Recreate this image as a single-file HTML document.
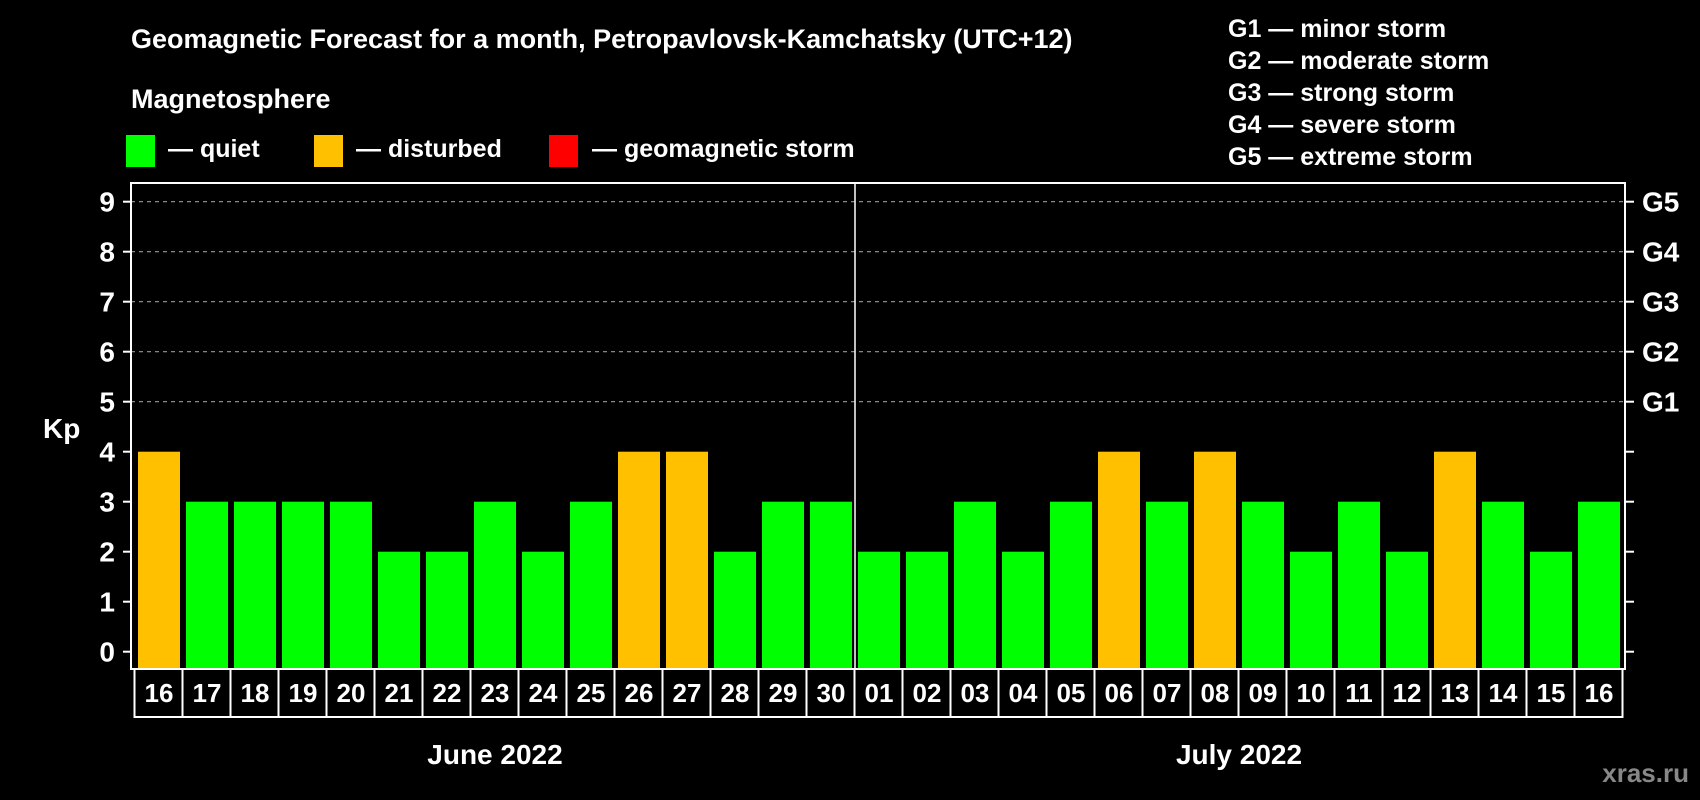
<!DOCTYPE html>
<html><head><meta charset="utf-8"><style>
html,body{margin:0;padding:0;background:#000;}
svg{display:block;font-family:"Liberation Sans",Arial,sans-serif;font-weight:bold;}
</style></head><body>
<svg id="chart" width="1700" height="800" viewBox="0 0 1700 800">
<rect x="0" y="0" width="1700" height="800" fill="#000"/>
<text x="131" y="48" font-size="27" fill="#fff">Geomagnetic Forecast for a month, Petropavlovsk-Kamchatsky (UTC+12)</text>
<text x="131" y="108" font-size="27" fill="#fff">Magnetosphere</text>
<g>
<rect x="126" y="135" width="29" height="32" fill="#00ff00"/>
<text x="168" y="157" font-size="25" fill="#fff">— quiet</text>
<rect x="314" y="135" width="29" height="32" fill="#ffc000"/>
<text x="356" y="157" font-size="25" fill="#fff">— disturbed</text>
<rect x="549" y="135" width="29" height="32" fill="#ff0000"/>
<text x="592" y="157" font-size="25" fill="#fff">— geomagnetic storm</text>
</g>
<g font-size="25" fill="#fff">
<text x="1228" y="37">G1 — minor storm</text>
<text x="1228" y="69">G2 — moderate storm</text>
<text x="1228" y="101">G3 — strong storm</text>
<text x="1228" y="133">G4 — severe storm</text>
<text x="1228" y="165">G5 — extreme storm</text>
</g>
<text x="43" y="438" font-size="28" fill="#fff">Kp</text>
<g id="grid"></g>
<g id="bars"></g>
<g id="axes"></g>
<text x="1689" y="782" font-size="26" fill="#888" text-anchor="end">xras.ru</text>
</svg>
<script>
const days = ["16","17","18","19","20","21","22","23","24","25","26","27","28","29","30","01","02","03","04","05","06","07","08","09","10","11","12","13","14","15","16"];
const kpValues = [4,3,3,3,3,2,2,3,2,3,4,4,2,3,3,2,2,3,2,3,4,3,4,3,2,3,2,4,3,2,3];
const yTicks = [0,1,2,3,4,5,6,7,8,9];
const gLabels = ["G1","G2","G3","G4","G5"];
const months = ["June 2022","July 2022"];
const monthSpans = [[0,14],[15,30]];

const NS="http://www.w3.org/2000/svg";
const PL=131,PR=1625,PT=183,PB=669,X0=135,STEP=48;
const y = v => 651.7 - v*50;
const x = i => X0 + i*STEP;
function mk(tag, attrs, parent){const e=document.createElementNS(NS,tag);for(const k in attrs)e.setAttribute(k,attrs[k]);parent.appendChild(e);return e;}
const grid=document.getElementById('grid'), bars=document.getElementById('bars'), axes=document.getElementById('axes');

for(let v=5; v<=9; v++){
  const l=mk('line',{x1:PL,x2:PR,y1:y(v),y2:y(v),stroke:'#999','stroke-width':1.2,'stroke-dasharray':'4 4'},grid);
  
  
}
kpValues.forEach((v,i)=>{
  const c = v>=5?'#ff0000':(v>=4?'#ffc000':'#00ff00');
  const r=mk('rect',{x:x(i)+3,y:y(v),width:42,height:y(0)-y(v)+17,fill:c},bars);
  
  
});
const frame=mk('rect',{x:PL,y:PT,width:PR-PL,height:PB-PT,fill:'none',stroke:'#fff','stroke-width':2},axes);


const sep=mk('line',{x1:x(15),x2:x(15),y1:PT,y2:PB,stroke:'#fff','stroke-width':1.5},axes);


yTicks.forEach(v=>{
  mk('line',{x1:123,x2:PL,y1:y(v),y2:y(v),stroke:'#fff','stroke-width':2},axes);
  mk('line',{x1:PR,x2:1634,y1:y(v),y2:y(v),stroke:'#fff','stroke-width':2},axes);
  const t=mk('text',{x:115,y:y(v)+10,'font-size':28,fill:'#fff','text-anchor':'end'},axes);
  t.textContent=v;
  
  
});
gLabels.forEach((g,i)=>{
  const t=mk('text',{x:1642,y:y(5+i)+10,'font-size':28,fill:'#fff'},axes);
  t.textContent=g;
  
  
});
days.forEach((d,i)=>{
  const b=mk('rect',{x:x(i)-0.5,y:PB,width:STEP,height:48,fill:'none',stroke:'#fff','stroke-width':2},axes);
  
  
  const t=mk('text',{x:x(i)+STEP/2,y:702,'font-size':26,fill:'#fff','text-anchor':'middle'},axes);
  t.textContent=d;
  
  
});
months.forEach((m,i)=>{
  const cx=(x(monthSpans[i][0])+x(monthSpans[i][1]+1))/2;
  const t=mk('text',{x:cx,y:764,'font-size':28,fill:'#fff','text-anchor':'middle'},axes);
  t.textContent=m;
  
  
});
</script>
</body></html>
